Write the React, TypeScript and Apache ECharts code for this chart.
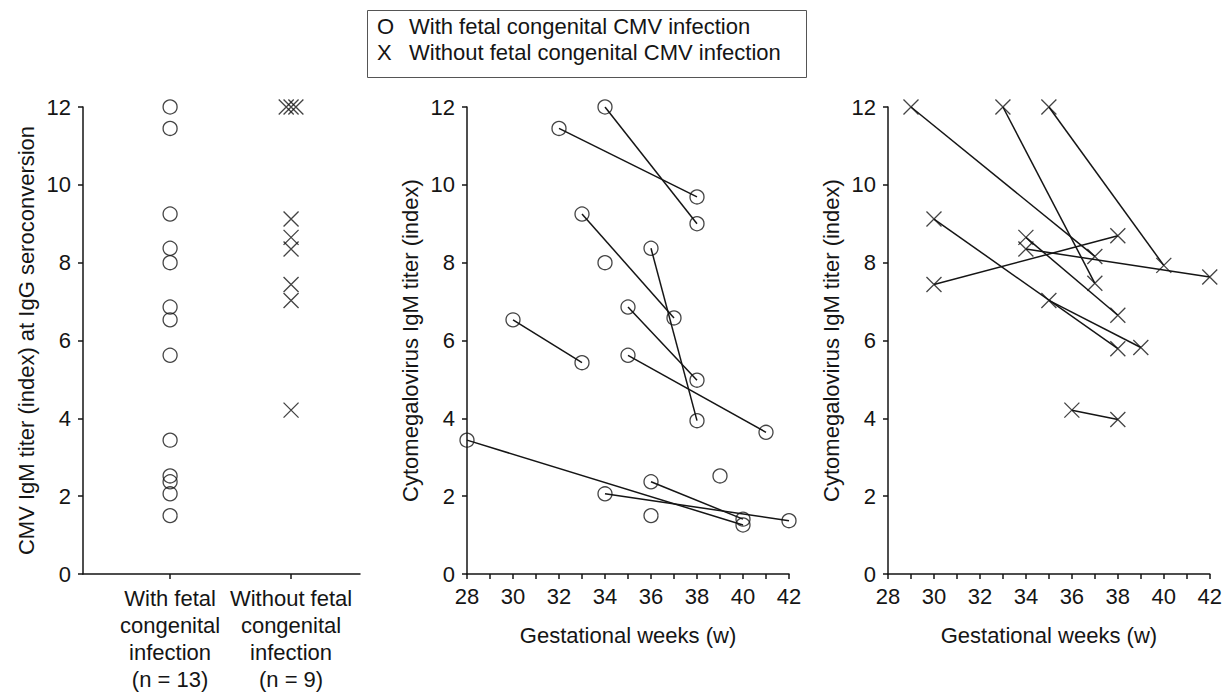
import React, { useEffect, useRef } from "react";
import * as echarts from "echarts";

// ---- Data ----
// Group categories (left panel)
const groupLabels = [
  "With fetal\ncongenital\ninfection\n(n = 13)",
  "Without fetal\ncongenital\ninfection\n(n = 9)",
];

// With fetal congenital CMV infection: first (seroconversion) and follow-up measurements
const withFirstWeek = [34, 32, 33, 36, 34, 35, 30, 35, 28, 39, 36, 34, 36];
const withFirstTiter = [12, 11.45, 9.25, 8.37, 8.0, 6.86, 6.53, 5.62, 3.44, 2.52, 2.37, 2.06, 1.5];
const withSecondWeek = [38, 38, 37, 38, null, 38, 33, 41, 40, null, 40, 42, null];
const withSecondTiter = [9.0, 9.69, 6.58, 3.94, null, 4.98, 5.43, 3.64, 1.26, null, 1.41, 1.37, null];

// Without fetal congenital CMV infection
const withoutFirstWeek = [29, 33, 35, 30, 34, 34, 30, 35, 36];
const withoutFirstTiter = [12, 12, 12, 7.44, 8.35, 8.65, 9.12, 7.03, 4.21];
const withoutSecondWeek = [37, 37, 40, 38, 42, 38, 38, 39, 38];
const withoutSecondTiter = [8.16, 7.47, 7.93, 8.69, 7.63, 6.65, 5.79, 5.82, 3.97];

// small horizontal jitter of overlapping points in the left panel
const withoutJitter = [-0.04, 0, 0.04, 0, 0, 0, 0, 0, 0];

const yTicks = { min: 0, max: 12, interval: 2 };
const weekTicks = { min: 28, max: 42, interval: 2 };

const legendItems = [
  { mark: "O", text: "With fetal congenital CMV infection" },
  { mark: "X", text: "Without fetal congenital CMV infection" },
];

const FONT = '"Liberation Sans", Arial, Helvetica, sans-serif';
const INK = "#151515";
const X_SYMBOL = "path://M0 0L10 10M10 0L0 10";

export default function App() {
  const ref = useRef<HTMLDivElement>(null);

  useEffect(() => {
    if (!ref.current) return;
    const chart = echarts.init(ref.current, undefined, { renderer: "svg" });

    const axisLine = { show: true, onZero: false, lineStyle: { color: INK, width: 1.5 } };
    const axisTick = { show: true, length: 5, lineStyle: { color: INK, width: 1.5 } };
    const labelStyle = { color: INK, fontSize: 22, fontFamily: FONT };

    const yAxisBase = (name: string, gridIndex: number) => ({
      type: "value",
      gridIndex,
      min: yTicks.min,
      max: yTicks.max,
      interval: yTicks.interval,
      name,
      nameLocation: "middle",
      nameGap: 46,
      nameRotate: 90,
      nameTextStyle: { ...labelStyle },
      axisLine,
      axisTick,
      axisLabel: { ...labelStyle, margin: 12 },
      splitLine: { show: false },
    });

    const weekAxis = (gridIndex: number) => ({
      type: "value",
      gridIndex,
      min: weekTicks.min,
      max: weekTicks.max,
      interval: weekTicks.interval,
      name: "Gestational weeks (w)",
      nameLocation: "middle",
      nameGap: 50,
      nameTextStyle: { ...labelStyle },
      axisLine,
      axisTick,
      minorTick: { show: true, splitNumber: 2, length: 5, lineStyle: { color: INK, width: 1.5 } },
      axisLabel: { ...labelStyle, margin: 11 },
      splitLine: { show: false },
      minorSplitLine: { show: false },
    });

    const circleStyle = { color: "rgba(0,0,0,0)", borderColor: INK, borderWidth: 1.3 };
    const crossStyle = { color: "none", borderColor: INK, borderWidth: 1.3 };

    const series: any[] = [];

    // Left panel
    series.push({
      type: "scatter",
      xAxisIndex: 0,
      yAxisIndex: 0,
      symbol: "circle",
      symbolSize: 14,
      itemStyle: circleStyle,
      data: withFirstTiter.map((v) => [1, v]),
    });
    series.push({
      type: "scatter",
      xAxisIndex: 0,
      yAxisIndex: 0,
      symbol: X_SYMBOL,
      symbolSize: 15,
      itemStyle: crossStyle,
      data: withoutFirstTiter.map((v, i) => [2 + withoutJitter[i], v]),
    });

    // Middle panel: connecting lines
    withFirstWeek.forEach((w, i) => {
      const w2 = withSecondWeek[i];
      const v2 = withSecondTiter[i];
      if (w2 == null || v2 == null) return;
      series.push({
        type: "line",
        xAxisIndex: 1,
        yAxisIndex: 1,
        symbol: "none",
        silent: true,
        lineStyle: { color: INK, width: 1.5 },
        data: [
          [w, withFirstTiter[i]],
          [w2, v2],
        ],
      });
    });
    const withPoints: number[][] = [];
    withFirstWeek.forEach((w, i) => {
      withPoints.push([w, withFirstTiter[i]]);
      const w2 = withSecondWeek[i];
      const v2 = withSecondTiter[i];
      if (w2 != null && v2 != null) withPoints.push([w2, v2]);
    });
    series.push({
      type: "scatter",
      xAxisIndex: 1,
      yAxisIndex: 1,
      symbol: "circle",
      symbolSize: 14,
      itemStyle: circleStyle,
      data: withPoints,
      z: 3,
    });

    // Right panel
    withoutFirstWeek.forEach((w, i) => {
      series.push({
        type: "line",
        xAxisIndex: 2,
        yAxisIndex: 2,
        symbol: "none",
        silent: true,
        lineStyle: { color: INK, width: 1.5 },
        data: [
          [w, withoutFirstTiter[i]],
          [withoutSecondWeek[i], withoutSecondTiter[i]],
        ],
      });
    });
    const withoutPoints: number[][] = [];
    withoutFirstWeek.forEach((w, i) => {
      withoutPoints.push([w, withoutFirstTiter[i]]);
      withoutPoints.push([withoutSecondWeek[i], withoutSecondTiter[i]]);
    });
    series.push({
      type: "scatter",
      xAxisIndex: 2,
      yAxisIndex: 2,
      symbol: X_SYMBOL,
      symbolSize: 15,
      itemStyle: crossStyle,
      data: withoutPoints,
      z: 3,
    });

    const legendGraphic: any[] = [
      {
        type: "rect",
        left: 367,
        top: 10,
        shape: { width: 439, height: 67 },
        style: { fill: "#fff", stroke: "#555", lineWidth: 1 },
      },
    ];
    legendItems.forEach((it, i) => {
      legendGraphic.push({
        type: "text",
        left: 377,
        top: 15 + i * 26.5,
        style: { text: it.mark, fill: INK, font: `22px ${FONT}` },
      });
      legendGraphic.push({
        type: "text",
        left: 409,
        top: 15 + i * 26.5,
        style: { text: it.text, fill: INK, font: `22px ${FONT}` },
      });
    });

    chart.setOption({
      animation: false,
      backgroundColor: "#fff",
      textStyle: { fontFamily: FONT },
      grid: [
        { left: 83, top: 107, width: 277, height: 467 },
        { left: 467, top: 107, width: 322, height: 467 },
        { left: 888, top: 107, width: 322, height: 467 },
      ],
      xAxis: [
        {
          type: "value",
          gridIndex: 0,
          min: 0.28,
          max: 2.57,
          axisLine,
          axisTick: { ...axisTick, customValues: [1, 2] },
          axisLabel: {
            ...labelStyle,
            margin: 11,
            lineHeight: 27,
            align: "center",
            customValues: [1, 2],
            formatter: (v: number) => groupLabels[Math.round(v) - 1] ?? "",
          },
          splitLine: { show: false },
        },
        weekAxis(1),
        weekAxis(2),
      ],
      yAxis: [
        yAxisBase("CMV IgM titer (index) at IgG seroconversion", 0),
        yAxisBase("Cytomegalovirus IgM titer (index)", 1),
        yAxisBase("Cytomegalovirus IgM titer (index)", 2),
      ],
      series,
      graphic: legendGraphic,
    });

    return () => chart.dispose();
  }, []);

  return (
    <div
      ref={ref}
      style={{ position: "fixed", left: 0, top: 0, width: 1225, height: 693, background: "#fff" }}
    />
  );
}
